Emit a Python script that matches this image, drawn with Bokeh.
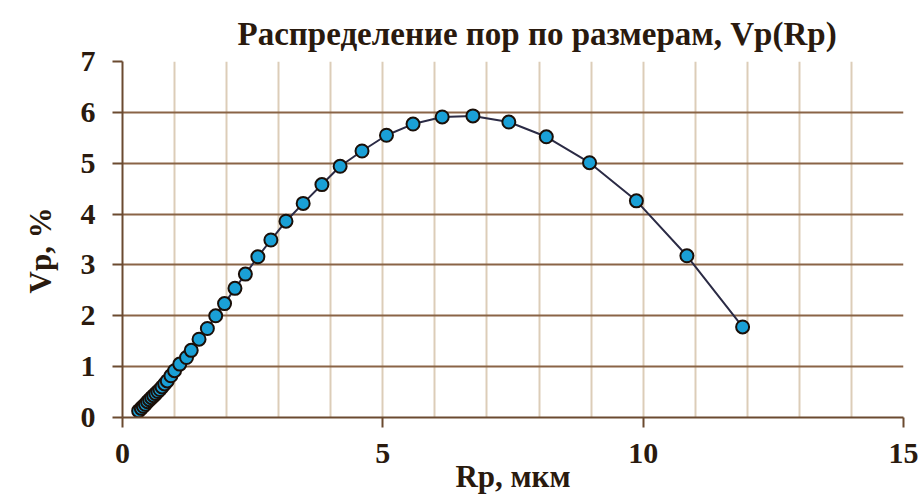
from bokeh.plotting import figure
from bokeh.models import FixedTicker, Range1d, Title
from bokeh.embed import file_html
from bokeh.resources import INLINE

# Data
rp = [0.31, 0.36, 0.40, 0.44, 0.48, 0.52, 0.56, 0.60, 0.64, 0.68, 0.72, 0.76,
      0.81, 0.86, 0.93, 1.00, 1.10, 1.23, 1.32, 1.47, 1.63, 1.79, 1.96, 2.16,
      2.36, 2.60, 2.85, 3.14, 3.47, 3.83, 4.18, 4.60, 5.07, 5.58, 6.14, 6.73,
      7.42, 8.14, 8.97, 9.87, 10.84, 11.91]
vp = [0.13, 0.18, 0.22, 0.26, 0.31, 0.35, 0.39, 0.43, 0.47, 0.51, 0.55, 0.60,
      0.66, 0.72, 0.82, 0.92, 1.05, 1.18, 1.32, 1.54, 1.75, 2.00, 2.24, 2.54,
      2.82, 3.16, 3.49, 3.86, 4.21, 4.58, 4.94, 5.24, 5.55, 5.77, 5.91, 5.93,
      5.81, 5.52, 5.01, 4.26, 3.18, 1.78]
x_ticks = [0, 5, 10, 15]
y_ticks = [0, 1, 2, 3, 4, 5, 6, 7]
x_grid = list(range(1, 16))
y_grid = [1, 2, 3, 4, 5, 6, 7]

title_text = "Распределение пор по размерам, Vp(Rp)"
x_label = "Rp, мкм"
y_label = "Vp, %"

FONT = "Liberation Serif"
TXT = "#2a1a0e"
AXC = "#6b4a30"

p = figure(width=919, height=498, output_backend="svg", toolbar_location=None,
           x_range=Range1d(0, 15), y_range=Range1d(0, 7),
           min_border_left=122, min_border_right=16, min_border_top=61,
           min_border_bottom=81)
p.outline_line_color = None
p.background_fill_color = "white"
p.border_fill_color = "white"

p.title.text = title_text
p.title.text_font = FONT
p.title.text_font_style = "bold"
p.title.text_font_size = "33px"
p.title.text_color = TXT
p.title.align = "left"
p.title.offset = 115
p.title.standoff = 20

# Grid
p.xgrid.ticker = FixedTicker(ticks=x_grid)
p.xgrid.grid_line_color = "#dccdb8"
p.xgrid.grid_line_width = 2
p.ygrid.ticker = FixedTicker(ticks=y_grid)
p.ygrid.grid_line_color = "#8a6447"
p.ygrid.grid_line_width = 2

# Axes
for ax in (p.xaxis[0], p.yaxis[0]):
    ax.axis_line_color = AXC
    ax.axis_line_width = 2
    ax.major_tick_line_color = AXC
    ax.major_tick_line_width = 2
    ax.major_tick_in = 0
    ax.major_tick_out = 10
    ax.minor_tick_line_color = None
    ax.major_label_text_font = FONT
    ax.major_label_text_font_style = "bold"
    ax.major_label_text_font_size = "30px"
    ax.major_label_text_color = TXT

p.xaxis.ticker = FixedTicker(ticks=x_ticks)
p.yaxis.ticker = FixedTicker(ticks=y_ticks)
p.xaxis.major_label_standoff = 16
p.yaxis.major_label_standoff = 17

p.xaxis.axis_label = x_label
p.xaxis.axis_label_text_font = FONT
p.xaxis.axis_label_text_font_style = "bold"
p.xaxis.axis_label_text_font_size = "31px"
p.xaxis.axis_label_text_color = TXT
p.xaxis.axis_label_standoff = -7

ytitle = Title(text=y_label, align="left", offset=124, standoff=40,
               text_font=FONT, text_font_style="bold",
               text_font_size="31px", text_color=TXT)
p.add_layout(ytitle, "left")

p.line(rp, vp, line_color="#2b2b45", line_width=2)
p.scatter(rp, vp, size=13, fill_color="#1aa0d6", line_color="#1a0f08",
          line_width=2)

open("out.html", "w").write(file_html(p, INLINE))
